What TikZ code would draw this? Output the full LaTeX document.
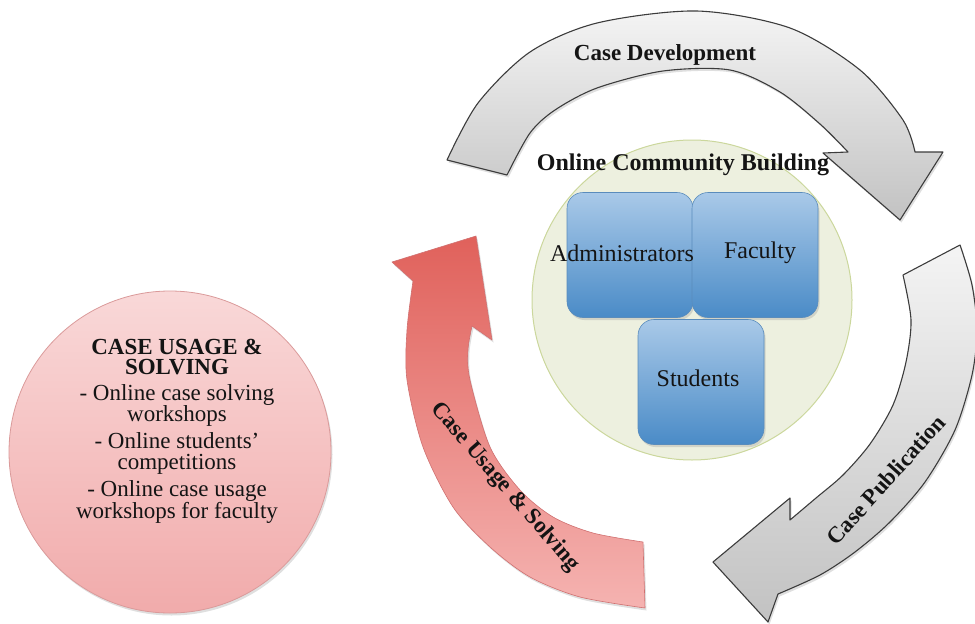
\documentclass[tikz,border=0pt]{standalone}
\usepackage{fontspec}
\setmainfont{Liberation Serif}
\usetikzlibrary{shadows}
\definecolor{arrowedge}{HTML}{3C3C3C}
\definecolor{greylight}{HTML}{F4F4F4}
\definecolor{greydark}{HTML}{C2C2C2}
\definecolor{redtop}{HTML}{E0615B}
\definecolor{redbottom}{HTML}{F5B3B1}
\definecolor{rededge}{HTML}{D07070}
\definecolor{pinktop}{HTML}{F9D8D8}
\definecolor{pinkbottom}{HTML}{F1ABAB}
\definecolor{pinkedge}{HTML}{DA9A9A}
\definecolor{greenfill}{HTML}{EDF0DF}
\definecolor{greenedge}{HTML}{CBD79C}
\definecolor{bluetop}{HTML}{A9C9E8}
\definecolor{bluebottom}{HTML}{4A8BC7}
\definecolor{blueedge}{HTML}{5A8CBC}
\definecolor{inktext}{HTML}{141414}

\begin{document}
\begin{tikzpicture}[x=1pt,y=-1pt,
  softshadow/.style={drop shadow={shadow xshift=1.5pt,shadow yshift=-2.5pt,opacity=0.25}},
  greyarrow/.style={draw=arrowedge,line width=1.1pt,line join=round,
    top color=greylight,bottom color=greydark,softshadow},
  redarrow/.style={draw=rededge,line width=0.6pt,line join=round,
    top color=redtop,bottom color=redbottom,softshadow},
  arrowlabel/.style={font=\bfseries\fontsize{23}{23}\selectfont,text=inktext,inner sep=0pt},
  memberbox/.style={draw=blueedge,line width=0.6pt,rounded corners=16pt,
    top color=bluetop,bottom color=bluebottom,minimum width=126pt,
    minimum height=125pt,inner sep=0pt,softshadow},
  membertext/.style={font=\fontsize{24}{24}\selectfont,text=inktext,inner sep=0pt},
]
\useasboundingbox (0,0) rectangle (975,624);

% ---- cycle arrows ----
% Case Development (top, grey)
\draw[greyarrow]
  plot[smooth] coordinates {(447,160) (478,103) (530,52) (597,23) (697,11)
                            (790,28) (860,70) (903,120) (915,152)}
  -- (943,152) -- (900,220) -- (823,153) -- (848,152)
  -- plot[smooth] coordinates {(848,152) (820,124) (780,92) (730,70) (663,71)
                               (597,88) (555,110) (530,133) (507,175)}
  -- cycle;

% Case Publication (right, grey)
\draw[greyarrow]
  plot[smooth] coordinates {(960,245) (972,285) (977,330) (972,375) (955,430)
                            (925,482) (890,522) (855,552) (820,575) (778,594)}
  -- (768,622) -- (713,562) -- (790,498) -- (790,520)
  -- plot[smooth] coordinates {(790,520) (816,498) (843,475) (870,444)
                               (893,405) (906,362) (911,320) (903,275)}
  -- cycle;

% Case Usage & Solving (left, red)
\draw[redarrow]
  plot[smooth] coordinates {(645,608) (580,597) (530,577) (490,547) (453,507)
                            (423,447) (407,380) (407,330) (413,281)}
  -- (392,262) -- (476,236) -- (492,340) -- (472,326)
  -- plot[smooth] coordinates {(472,326) (468,350) (470,380) (490,447)
                               (520,490) (553,517) (593,533) (643,542)}
  -- cycle;

\node[arrowlabel] (devlabel) at (665,55) {Case Development};
\node[arrowlabel, rotate=48] (publabel) at (886,480) {Case Publication};
\node[arrowlabel, rotate=-49] (uselabel) at (505,487) {Case Usage \& Solving};

% ---- online community ----
\node[circle, draw=greenedge, line width=1pt, fill=greenfill,
      minimum size=320pt, inner sep=0pt] (community) at (692,300) {};

\node[memberbox] (admin) at (630,255) {};
\node[memberbox] (faculty) at (755,255) {};
\node[memberbox] (students) at (701,382) {};

\node[membertext] (admintext) at (622,253) {Administrators};
\node[membertext] (facultytext) at (760,253) {Faculty};
\node[membertext] (studentstext) at (698,378) {Students};

\node[font=\bfseries\fontsize{24}{24}\selectfont, text=inktext, inner sep=0pt]
  (communitytitle) at (683,165) {Online Community Building};

% ---- case usage details ----
\node[circle, draw=pinkedge, line width=0.8pt, top color=pinktop,
      bottom color=pinkbottom, minimum size=322pt, inner sep=0pt, softshadow]
  (usage) at (170,452) {};

\node[align=center, text=inktext, inner sep=0pt,
      font=\fontsize{23}{20.5}\selectfont] (usagetext) at (177,431)
  {{\bfseries CASE USAGE \&}\\
   {\bfseries SOLVING}\\[5pt]
   - Online case solving\\
   workshops\\[5pt]
   - Online students'\\
   competitions\\[5pt]
   - Online case usage\\
   workshops for faculty};
\end{tikzpicture}
\end{document}
